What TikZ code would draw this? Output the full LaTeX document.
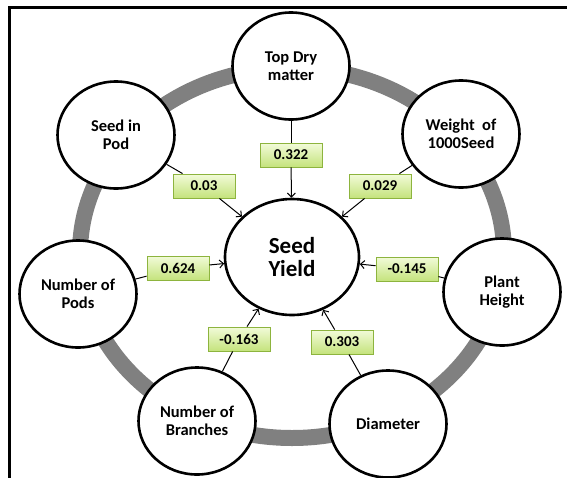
\documentclass[tikz,border=0pt]{standalone}
\usepackage{fontspec}
\setmainfont{Carlito}
\usetikzlibrary{shapes.geometric,arrows.meta}
\definecolor{ringgray}{HTML}{808080}
\definecolor{labtop}{HTML}{F2FBD9}
\definecolor{labbot}{HTML}{C4E37C}
\definecolor{labdraw}{HTML}{8DB43E}
\begin{document}
\begin{tikzpicture}[x=1pt,y=-1pt,
  factor/.style={ellipse,draw=black,line width=2.6pt,fill=white,minimum width=117pt,minimum height=107pt,inner sep=0pt,align=center,font=\bfseries\fontsize{16.5}{18}\selectfont},
  yield/.style={factor,minimum width=134pt,minimum height=116pt,font=\bfseries\fontsize{23}{23}\selectfont},
  lab/.style={draw=labdraw,line width=0.9pt,top color=labtop,bottom color=labbot,minimum width=62pt,minimum height=24pt,inner sep=0pt,font=\bfseries\fontsize{15}{15}\selectfont},
  link/.style={draw=black,line width=1pt},
  arr/.style={link,-{Straight Barb[length=4pt,width=8pt]}}]
\useasboundingbox (0,0) rectangle (567,477);
\draw[line width=3pt] (9.5,480) -- (9.5,7.3) -- (570,7.3);
\draw[ringgray,line width=16pt] (292,253) ellipse [x radius=212, y radius=185];
\node[factor] (TD) at (291,66) {Top Dry\\matter};
\node[factor] (SP) at (116,135) {Seed in\\Pod};
\node[factor] (WT) at (461,134) {Weight~ of\\1000Seed};
\node[factor] (NP) at (78,294) {Number of\\Pods};
\node[factor] (PH) at (502,292) {Plant\\Height};
\node[factor] (NB) at (197,421) {Number of\\Branches};
\node[factor] (DI) at (388,424) {Diameter};
\node[yield] (SY) at (292,257) {Seed\\Yield};
\node[lab] (l322) at (291,155) {0.322};
\node[lab] (l003) at (204,186) {0.03};
\node[lab] (l029) at (380,186) {0.029};
\node[lab] (l624) at (178,268) {0.624};
\node[lab] (l145) at (407,269) {-0.145};
\node[lab] (l163) at (239,339) {-0.163};
\node[lab] (l303) at (342,342) {0.303};
\draw[link] (TD) -- (l322);
\draw[arr] (l322) -- (SY);
\draw[link] (SP) -- (l003);
\draw[arr] (l003) -- (SY);
\draw[link] (WT) -- (l029);
\draw[arr] (l029) -- (SY);
\draw[link] (NP) -- (l624);
\draw[arr] (l624) -- (SY);
\draw[link] (PH) -- (l145);
\draw[arr] (l145) -- (SY);
\draw[link] (NB) -- (l163);
\draw[arr] (l163) -- (SY);
\draw[link] (DI) -- (l303);
\draw[arr] (l303) -- (SY);
\end{tikzpicture}
\end{document}
